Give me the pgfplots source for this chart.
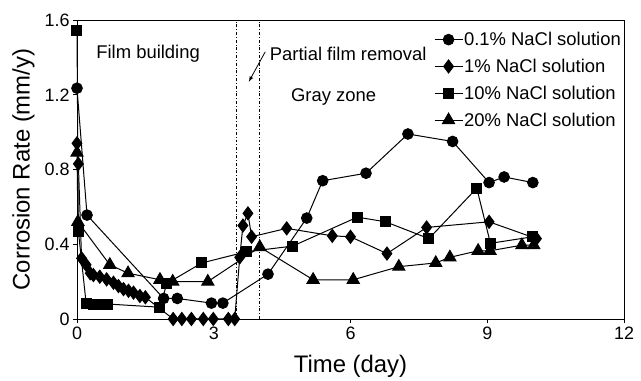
\documentclass[border=0pt]{standalone}
\usepackage{fontspec}
\setmainfont{Liberation Sans}
\usepackage{pgfplots}
\pgfplotsset{compat=1.18}
\begin{document}
\begin{tikzpicture}
\begin{axis}[
  scale only axis,
  width=547bp, height=299bp,
  xmin=0, xmax=12, ymin=0, ymax=1.6,
  xtick={0,3,6,9,12}, ytick={0,0.4,0.8,1.2,1.6},
  yticklabels={0,0.4,0.8,1.2,1.6},
  xtick pos=bottom, ytick pos=left,
  tick align=outside, major tick length=4bp,
  tick style={black, line width=0.8bp},
  axis line style={line width=0.8bp},
  /pgf/number format/assume math mode=true,
  ticklabel style={font=\fontsize{18}{20}\selectfont},
  xlabel={Time (day)}, ylabel={Corrosion Rate (mm/y)},
  label style={font=\fontsize{24}{26}\selectfont},
  xlabel style={yshift=-9bp},
  ylabel style={yshift=3bp},
  clip=false,
  legend style={at={(rel axis cs:1,1)}, anchor=north east, draw=none, fill=none,
    font=\fontsize{18.5}{20}\selectfont, row sep=10bp, inner sep=2bp, xshift=0bp, yshift=-9bp,
    nodes={inner sep=1bp}},
  legend cell align=left,
  legend image code/.code={\draw[mark repeat=2,mark phase=2] plot coordinates {(0bp,0bp)(14bp,0bp)(28bp,0bp)};},
  every axis plot/.append style={black, line width=1bp},
]
\addplot[mark=*, mark size=5.3bp] coordinates {
(0,1.235) (0.22,0.556) (1.9,0.11) (2.2,0.11) (2.95,0.085) (3.2,0.085) (4.19,0.24)
(5.04,0.54) (5.39,0.74) (6.34,0.78) (7.26,0.99) (8.24,0.95) (9.04,0.73) (9.37,0.76) (10.0,0.73)};
\addlegendentry{0.1\% NaCl solution}
\addplot[mark=diamond*, mark size=6.5bp] coordinates {
(0,0.94) (0.03,0.83) (0.1,0.325) (0.2,0.29) (0.29,0.245) (0.36,0.235) (0.5,0.226)
(0.65,0.212) (0.8,0.194) (0.91,0.176) (1.02,0.16) (1.13,0.151) (1.24,0.141) (1.38,0.123)
(1.5,0.116) (2.11,0) (2.3,0) (2.51,0) (2.77,0) (2.99,0) (3.32,0) (3.46,0) (3.57,0.33)
(3.64,0.50) (3.75,0.565) (3.83,0.44) (4.6,0.485) (5.6,0.445) (6.0,0.44) (6.8,0.35)
(7.67,0.49) (9.04,0.52) (10.08,0.43)};
\addlegendentry{1\% NaCl solution}
\addplot[mark=square*, mark size=5bp] coordinates {
(0,1.545) (0.03,0.47) (0.2,0.085) (0.36,0.075) (0.51,0.075) (0.68,0.08) (1.82,0.063)
(1.97,0.19) (2.74,0.30) (3.72,0.36) (4.73,0.39) (6.15,0.545) (6.77,0.52) (7.72,0.43)
(8.77,0.70) (9.07,0.405) (10.0,0.44)};
\addlegendentry{10\% NaCl solution}
\addplot[mark=triangle*, mark size=7bp] coordinates {
(0,0.89) (0.02,0.52) (0.72,0.29) (1.12,0.245) (1.82,0.21) (2.1,0.2) (2.87,0.2)
(4.01,0.385) (5.18,0.21) (6.06,0.21) (7.06,0.28) (7.87,0.30) (8.18,0.33) (8.8,0.365)
(9.06,0.365) (9.76,0.395) (10.02,0.395)};
\addlegendentry{20\% NaCl solution}
\addplot[forget plot, line width=0.7bp, dash dot] coordinates {(3.5,0) (3.5,1.6)};
\addplot[forget plot, line width=0.7bp, dash dot] coordinates {(4,0) (4,1.6)};
\node[font=\fontsize{18.5}{20}\selectfont] at (axis cs:1.56,1.42) {Film building};
\node[font=\fontsize{18.5}{20}\selectfont] at (axis cs:5.95,1.42) {Partial film removal};
\node[font=\fontsize{18.5}{20}\selectfont] at (axis cs:5.63,1.19) {Gray zone};
\draw[-latex, line width=0.8bp] (axis cs:4.13,1.43) -- (axis cs:3.77,1.27);
\end{axis}
\path (current axis.south west) ++(-77bp,-54bp);
\path (current axis.north east) ++(17bp,20bp);
\end{tikzpicture}
\end{document}
